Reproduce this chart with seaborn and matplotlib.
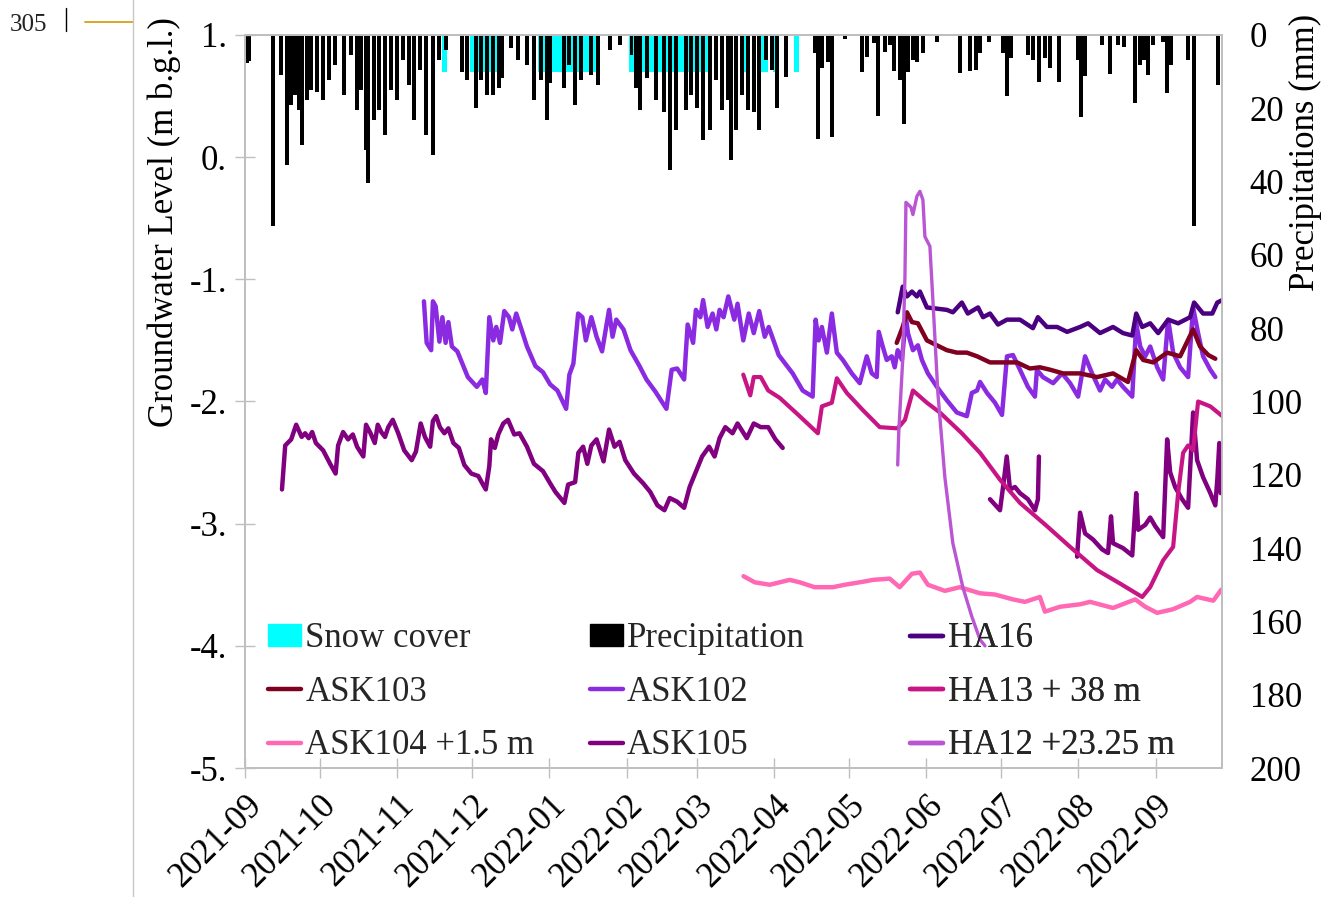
import numpy as np
import pandas as pd
import matplotlib
matplotlib.use("Agg")
import matplotlib.pyplot as plt
import matplotlib.dates as mdates
from matplotlib.lines import Line2D
from matplotlib.patches import Patch
import seaborn as sns

# all x values are days since 2021-09-01
START = pd.Timestamp("2021-09-01")

# snow cover periods (start day, length in days), drawn as 10 mm blocks
snow_start = [79, 90, 117.6, 153.7, 199, 207, 211.5, 220]
snow_len = [1.8, 13.5, 23.4, 32.1, 2, 2.5, 1.5, 2]
snow_depth = 10

# daily precipitation (mm)
rain_day = [0.8, 1.6, 11.2, 14.4, 16.9, 18.5, 20.1, 21.7, 22.9, 24.9, 26.5, 28.9, 31.3, 33.7, 36.1,
            39.7, 42.5, 44.9, 46.5, 48.6, 49.4, 51.8, 53.8, 56.2, 58.6, 61.0, 63.4, 65.8, 67.8, 70.2,
            72.6, 75.4, 77.9, 80.7, 87.1, 89.1, 92.7, 94.7, 97.1, 99.5, 101.9, 103.1, 106.7, 109.6,
            113.2, 116.0, 118.8, 121.2, 122.4, 128.0, 130.0, 132.4, 134.8, 138.8, 141.3, 146.1, 150.1,
            154.9, 156.9, 158.5, 161.3, 164.9, 168.1, 170.2, 172.6, 176.6, 178.6, 181.0, 183.4, 186.2,
            188.6, 191.0, 193.4, 194.6, 196.6, 199.0, 201.5, 203.9, 205.9, 208.7, 211.1, 213.1,
            216.7, 228.3, 229.5, 231.1, 233.5, 235.2, 240.4, 247.2, 249.2, 252.0, 253.6, 256.4, 258.4,
            260.0, 262.4, 264.1, 265.7, 267.7, 269.3, 271.7, 277.3, 286.5, 290.5, 293.0, 294.6, 298.2,
            303.8, 305.4, 307.0, 313.8, 315.8, 318.2, 320.6, 322.7, 326.3, 329.9, 333.9, 335.1, 336.7,
            339.9, 343.5, 346.7, 349.9, 352.3, 356.8, 358.8, 360.4, 362.0, 363.9, 368.0, 369.6, 371.2,
            378.0, 380.4, 384.4, 390.1]
rain_mm = [7.6, 7.0, 52.1, 10.9, 35.5, 19.1, 16.4, 20.5, 30.0, 17.7, 15.0, 15.6, 17.7, 12.3, 8.2,
           16.4, 5.5, 20.5, 15.0, 31.4, 40.4, 23.2, 20.5, 27.3, 15.0, 17.7, 6.8, 13.6, 23.2, 9.5,
           27.3, 32.7, 6.8, 4.1, 10.1, 12.3, 19.9, 12.3, 16.4, 16.4, 14.5, 11.7, 3.5, 6.8,
           8.2, 17.7, 12.3, 23.2, 13.1, 14.5, 8.2, 19.1, 12.3, 10.9, 13.6, 4.1, 2.7,
           5.5, 14.5, 20.5, 11.7, 17.7, 21.0, 36.8, 25.9, 20.5, 16.4, 19.9, 28.6, 25.9,
           12.3, 20.5, 17.7, 34.1, 25.9, 16.4, 20.5, 21.0, 25.9, 6.8, 9.5, 19.9,
           11.5, 5.0, 28.4, 9.0, 7.4, 27.8, 1.1, 10.1, 6.0, 2.2, 22.1, 4.6, 2.7,
           9.8, 12.3, 24.3, 10.1, 6.8, 7.4, 4.9, 1.9, 10.4, 9.8, 9.5, 4.9, 1.9,
           4.9, 16.6, 6.3, 5.5, 6.8, 12.8, 6.3, 9.0, 12.8, 0.3, 6.8, 22.4, 11.2,
           0.3, 2.7, 10.6, 2.7, 3.3, 18.6, 8.2, 6.8, 10.9, 2.7, 1.9, 15.8, 8.2,
           6.8, 52.1, 0.3, 13.6]

# groundwater levels (m b.g.l.)
ask105_day_a = [14.8, 16.1, 18.5, 20.5, 22.7, 24.1, 25.5, 26.9, 28.4, 31.3,
                34.1, 36.3, 37.3, 39.3, 41.3, 43.2, 44.9, 47.4, 48.5, 50.3,
                52.0, 53.2, 54.6, 56.1, 57.4, 59.2, 61.4, 63.8, 66.8, 68.5,
                70.4, 72.1, 74.2, 75.3, 76.6, 78.1, 79.9, 81.5, 83.5, 85.7,
                87.9, 90.7, 93.5, 95.1, 96.5, 97.9, 98.6, 100.1, 101.5, 103.5,
                105.4, 107.9, 110.0, 113.0, 115.8, 119.4, 122.3, 124.4, 128.0, 129.5,
                132.3, 133.6, 135.5, 137.2, 138.8, 140.9, 143.7, 145.9, 148.1, 150.1,
                152.4, 155.9, 159.6, 162.4, 165.3, 168.1, 170.2, 173.2, 176.0, 178.2,
                180.2, 183.2, 186.0, 188.2, 190.2, 192.5, 195.4, 197.4, 201.1, 203.9,
                206.7, 209.7, 212.6, 215.5]
ask105_gwl_a = [-2.72, -2.36, -2.31, -2.19, -2.29, -2.26, -2.30, -2.25, -2.34, -2.40,
                -2.51, -2.59, -2.36, -2.25, -2.31, -2.27, -2.37, -2.45, -2.19, -2.26,
                -2.34, -2.19, -2.25, -2.29, -2.21, -2.15, -2.26, -2.40, -2.48, -2.41,
                -2.18, -2.29, -2.37, -2.16, -2.12, -2.21, -2.26, -2.22, -2.34, -2.38,
                -2.52, -2.59, -2.61, -2.67, -2.72, -2.53, -2.31, -2.38, -2.27, -2.18,
                -2.15, -2.27, -2.26, -2.37, -2.51, -2.57, -2.67, -2.74, -2.83, -2.68,
                -2.66, -2.42, -2.37, -2.51, -2.36, -2.31, -2.49, -2.23, -2.37, -2.33,
                -2.48, -2.59, -2.67, -2.74, -2.85, -2.89, -2.79, -2.82, -2.87, -2.70,
                -2.60, -2.45, -2.37, -2.45, -2.30, -2.21, -2.26, -2.18, -2.30, -2.18,
                -2.21, -2.21, -2.31, -2.38]
ask105_day_b = [298.6, 302.6, 304.2, 305.3, 306.6, 308.6, 310.6, 313.8, 316.6, 317.8, 318.2]
ask105_gwl_b = [-2.80, -2.89, -2.64, -2.45, -2.72, -2.70, -2.75, -2.80, -2.89, -2.80, -2.45]
ask105_day_c = [333.5, 334.7, 336.7, 339.9, 343.5, 345.9, 347.1, 347.9, 351.9, 355.6,
                357.2, 358.0, 360.8, 362.8, 364.8, 368.0, 369.6, 370.8, 372.8, 375.6,
                378.0, 380.0, 381.6, 384.0, 386.9, 388.9, 389.7, 390.5, 391.1]
ask105_gwl_c = [-3.27, -2.91, -3.08, -3.13, -3.21, -3.24, -2.94, -3.16, -3.20, -3.26,
                -2.75, -3.05, -3.01, -2.95, -3.02, -3.11, -2.31, -2.58, -2.70, -2.80,
                -2.87, -2.09, -2.48, -2.62, -2.75, -2.85, -2.64, -2.34, -2.75]

ask102_day = [71.7, 72.8, 74.6, 75.3, 76.4, 77.9, 79.1, 80.4, 81.5, 82.9,
              85.1, 87.1, 89.3, 92.9, 95.1, 96.5, 97.9, 99.5, 100.7, 102.2,
              103.9, 105.8, 107.1, 108.7, 110.8, 113.0, 116.4, 119.4, 122.3, 125.2,
              128.7, 130.0, 131.6, 133.5, 135.2, 136.6, 138.8, 140.9, 143.1, 145.9,
              147.3, 148.8, 151.7, 154.5, 158.1, 160.9, 164.5, 168.9, 171.0, 173.2,
              176.0, 177.4, 179.6, 180.7, 182.5, 183.6, 185.4, 187.4, 188.9, 190.2,
              191.8, 193.7, 196.1, 197.4, 199.7, 201.9, 203.9, 206.1, 208.3, 209.9,
              213.9, 219.5, 223.5, 227.5, 228.7, 229.9, 231.2, 233.2, 235.2, 237.2,
              239.6, 243.2, 246.4, 249.2, 251.2, 253.2, 254.0, 255.6, 257.2, 259.2,
              260.4, 261.6, 263.3, 264.9, 265.7, 267.7, 269.7, 271.3, 273.7, 277.3,
              281.3, 285.3, 289.3, 291.3, 293.4, 294.6, 297.4, 300.6, 303.4, 305.4,
              307.8, 310.6, 313.8, 316.6, 317.4, 319.8, 323.9, 327.5, 330.7, 333.9,
              336.7, 339.5, 342.7, 344.7, 347.5, 349.5, 351.9, 355.6, 357.2, 358.8,
              360.8, 362.8, 365.6, 368.0, 370.0, 372.0, 374.8, 378.0, 380.0, 382.0,
              384.0, 386.9, 388.9]
ask102_gwl = [-1.18, -1.52, -1.58, -1.18, -1.22, -1.51, -1.31, -1.52, -1.35, -1.55,
              -1.59, -1.69, -1.80, -1.88, -1.82, -1.93, -1.31, -1.50, -1.39, -1.52,
              -1.26, -1.31, -1.41, -1.28, -1.41, -1.55, -1.71, -1.76, -1.86, -1.91,
              -2.06, -1.78, -1.69, -1.28, -1.31, -1.50, -1.31, -1.47, -1.59, -1.25,
              -1.47, -1.33, -1.41, -1.58, -1.71, -1.82, -1.92, -2.06, -1.74, -1.73,
              -1.82, -1.37, -1.52, -1.25, -1.31, -1.17, -1.39, -1.28, -1.41, -1.25,
              -1.31, -1.14, -1.33, -1.20, -1.50, -1.28, -1.44, -1.26, -1.47, -1.39,
              -1.62, -1.77, -1.91, -1.96, -1.33, -1.50, -1.39, -1.60, -1.28, -1.60,
              -1.66, -1.77, -1.85, -1.63, -1.77, -1.80, -1.43, -1.55, -1.66, -1.63,
              -1.72, -1.58, -1.66, -1.31, -1.44, -1.58, -1.54, -1.66, -1.77, -1.88,
              -1.99, -2.09, -2.12, -1.93, -1.91, -1.84, -1.93, -2.01, -2.11, -1.63,
              -1.62, -1.74, -1.88, -1.96, -1.74, -1.80, -1.85, -1.77, -1.85, -1.96,
              -1.63, -1.77, -1.91, -1.82, -1.88, -1.82, -1.88, -1.96, -1.36, -1.55,
              -1.63, -1.55, -1.72, -1.82, -1.33, -1.60, -1.72, -1.80, -1.23, -1.44,
              -1.63, -1.74, -1.80]

ha13_day = [199.7, 202.5, 203.9, 206.7, 209.7, 214.3, 222.3, 229.6, 231.2, 235.2,
            237.2, 241.2, 247.6, 254.4, 261.6, 264.5, 267.7, 273.3, 278.5, 287.3,
            294.6, 302.6, 310.6, 321.4, 330.7, 341.5, 350.7, 359.6, 362.8, 368.0,
            372.0, 374.0, 376.0, 378.0, 380.0, 382.0, 386.9, 391.7]
ha13_gwl = [-1.78, -1.95, -1.80, -1.80, -1.91, -1.97, -2.12, -2.26, -2.04, -2.01,
            -1.81, -1.93, -2.07, -2.21, -2.22, -2.15, -1.91, -2.01, -2.09, -2.26,
            -2.42, -2.64, -2.83, -3.02, -3.19, -3.38, -3.49, -3.60, -3.52, -3.30,
            -3.19, -2.75, -2.42, -2.36, -2.40, -2.00, -2.04, -2.12]

ha12_day = [261.6, 262.0, 263.6, 264.5, 264.9, 266.9, 267.7, 269.3, 270.5, 271.7,
            272.5, 274.5, 275.7, 277.7, 280.5, 283.7, 287.7, 291.3, 294.6, 296.6]
ha12_gwl = [-2.52, -2.26, -1.66, -0.98, -0.37, -0.41, -0.47, -0.32, -0.28, -0.35,
            -0.65, -0.73, -1.17, -1.93, -2.62, -3.16, -3.52, -3.76, -3.95, -4.00]

ha16_day = [261.6, 263.6, 265.3, 267.3, 269.3, 270.5, 273.3, 277.3, 281.3, 283.7,
            287.3, 289.7, 293.8, 295.8, 298.6, 301.8, 305.4, 310.6, 315.8, 317.8,
            321.4, 325.5, 329.5, 334.7, 337.9, 342.7, 347.9, 351.9, 355.6, 357.2,
            359.6, 362.8, 366.0, 370.0, 374.0, 378.8, 380.4, 384.0, 387.7, 389.7, 391.7]
ha16_gwl = [-1.27, -1.06, -1.14, -1.10, -1.14, -1.10, -1.23, -1.24, -1.25, -1.27,
            -1.19, -1.28, -1.23, -1.31, -1.28, -1.37, -1.33, -1.33, -1.40, -1.31,
            -1.39, -1.39, -1.43, -1.39, -1.36, -1.44, -1.39, -1.44, -1.46, -1.28,
            -1.39, -1.36, -1.44, -1.33, -1.36, -1.31, -1.19, -1.28, -1.28, -1.19, -1.17]

ask103_day = [261.2, 263.6, 265.3, 267.3, 269.7, 273.3, 277.3, 281.3, 285.3, 289.3,
              293.4, 298.6, 303.8, 309.4, 314.6, 318.6, 322.7, 327.9, 334.7, 341.5,
              347.9, 353.9, 357.2, 360.0, 364.0, 369.6, 374.8, 380.0, 382.8, 386.1, 388.9]
ask103_gwl = [-1.52, -1.39, -1.27, -1.35, -1.36, -1.50, -1.54, -1.58, -1.60, -1.60,
              -1.63, -1.68, -1.68, -1.68, -1.73, -1.72, -1.74, -1.77, -1.77, -1.80,
              -1.77, -1.84, -1.58, -1.66, -1.68, -1.60, -1.63, -1.41, -1.55, -1.62, -1.65]

ask104_day = [199.8, 204.3, 210.3, 218.3, 222.3, 228.3, 235.6, 240.4, 249.2, 251.6,
              258.4, 262.4, 267.3, 270.5, 273.7, 280.5, 286.5, 294.6, 300.6, 307.8,
              312.6, 318.6, 320.6, 326.7, 334.7, 338.7, 347.9, 356.8, 360.8, 365.6,
              372.0, 378.8, 381.6, 388.1, 391.3]
ask104_gwl = [-3.43, -3.48, -3.50, -3.46, -3.48, -3.52, -3.52, -3.50, -3.47, -3.46,
              -3.45, -3.52, -3.41, -3.40, -3.50, -3.55, -3.52, -3.57, -3.58, -3.62,
              -3.64, -3.60, -3.72, -3.68, -3.66, -3.64, -3.69, -3.62, -3.68, -3.73,
              -3.70, -3.64, -3.60, -3.63, -3.54]

colors = {"HA16": "#4B0082", "ASK103": "#800020", "ASK102": "#8A2BE2",
          "HA13 + 38 m": "#C71585", "ASK104 +1.5 m": "#FF69B4", "ASK105": "#800080",
          "HA12 +23.25 m": "#BA55D3"}


def to_date(days):
    return START + pd.to_timedelta(np.asarray(days, dtype=float), unit="D")


sns.set_theme(style="white")
plt.rcParams["font.family"] = ["Liberation Serif", "DejaVu Serif"]

fig = plt.figure(figsize=(13.26, 8.97), dpi=100)
ax = fig.add_axes([0.1848, 0.1438, 0.7368, 0.8172])
ax2 = ax.twinx()

# precipitation + snow on the right (inverted) axis
ax2.bar(to_date(snow_start), snow_depth, width=snow_len, align="edge", color="#00FFFF", lw=0)
ax2.bar(to_date(rain_day), rain_mm, width=1.6, color="black", lw=0)
ax2.set_ylim(200, 0)
ax2.set_yticks(range(0, 201, 20))

series = [
    ("ASK105", [(ask105_day_a, ask105_gwl_a), (ask105_day_b, ask105_gwl_b), (ask105_day_c, ask105_gwl_c)], 3.2),
    ("ASK102", [(ask102_day, ask102_gwl)], 3.2),
    ("ASK104 +1.5 m", [(ask104_day, ask104_gwl)], 3.2),
    ("HA13 + 38 m", [(ha13_day, ha13_gwl)], 3.0),
    ("ASK103", [(ask103_day, ask103_gwl)], 3.2),
    ("HA16", [(ha16_day, ha16_gwl)], 3.2),
    ("HA12 +23.25 m", [(ha12_day, ha12_gwl)], 2.4),
]
for name, segs, lw in series:
    for d, v in segs:
        sns.lineplot(x=to_date(d), y=v, ax=ax, color=colors[name], linewidth=lw,
                     estimator=None, sort=False, legend=False)

ax.set_zorder(ax2.get_zorder() + 1)
ax.patch.set_visible(False)

ax.set_ylim(-5, 1)
ax.set_yticks(range(-5, 2))
ax.set_yticklabels([f"{v}." for v in range(-5, 2)])
ax.set_xlim(START, START + pd.Timedelta(days=391.6))
ax.xaxis.set_major_locator(mdates.MonthLocator())
ax.xaxis.set_major_formatter(mdates.DateFormatter("%Y-%m"))
ax.set_xlabel("")

ax.tick_params(axis="both", which="major", bottom=True, left=True, direction="inout",
               length=14, width=1, color="#BFBFBF", labelsize=25, labelcolor="black")
ax.tick_params(axis="y", pad=6)
ax.tick_params(axis="x", pad=8)
for lbl in ax.get_xticklabels():
    lbl.set_rotation(45)
    lbl.set_ha("right")
    lbl.set_va("top")
    lbl.set_rotation_mode("anchor")
ax2.tick_params(axis="y", right=True, length=0, pad=20, labelsize=25, labelcolor="black")

for a in (ax, ax2):
    for sp in a.spines.values():
        sp.set_color("#BFBFBF")
        sp.set_linewidth(1.3)

ax.set_ylabel("Groundwater Level (m b.g.l.)", fontsize=25, color="black")
ax.yaxis.set_label_coords(-0.066, 0.745)
ax2.set_ylabel("Precipitations (mm)", fontsize=25, color="black")
ax2.yaxis.set_label_coords(1.068, 0.84)


def lh(name):
    return Line2D([], [], color=colors[name], lw=3.2)


columns = [
    ([Patch(color="#00FFFF"), lh("ASK103"), lh("ASK104 +1.5 m")],
     ["Snow cover", "ASK103", "ASK104 +1.5 m"], 0.0235),
    ([Patch(color="black"), lh("ASK102"), lh("ASK105")],
     ["Precipitation", "ASK102", "ASK105"], 0.353),
    ([lh("HA16"), lh("HA13 + 38 m"), lh("HA12 +23.25 m")],
     ["HA16", "HA13 + 38 m", "HA12 +23.25 m"], 0.681),
]
for handles, labels, x0 in columns:
    leg = ax.legend(handles, labels, loc="upper left", bbox_to_anchor=(x0, 0.199),
                    frameon=False, fontsize=25, handlelength=0.95, handleheight=0.58,
                    handletextpad=0.12, labelspacing=0.59, borderpad=0, borderaxespad=0)
    ax.add_artist(leg)

# page margin bits visible in the screenshot
W, H = 1326, 897
fig.text(10 / W, 1 - 31 / H, "305", fontsize=18, color="#222222", ha="left", va="baseline")
fig.add_artist(Line2D([66 / W, 66 / W], [1 - 8 / H, 1 - 31 / H], color="black", lw=1))
fig.add_artist(Line2D([85 / W, 133 / W], [1 - 22 / H, 1 - 22 / H], color="#D4A017", lw=1.3))
fig.add_artist(Line2D([133 / W, 133 / W], [0, 1], color="#C8C8C8", lw=1))

fig.savefig("out.png", dpi=100)
